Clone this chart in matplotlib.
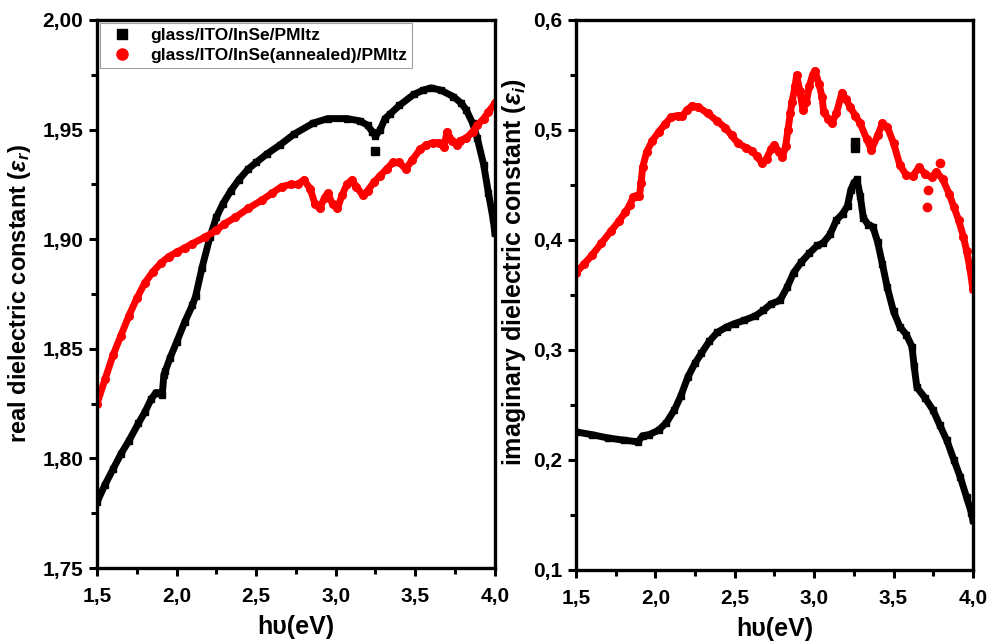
import numpy as np
import matplotlib
matplotlib.use('Agg')
import matplotlib.pyplot as plt
from matplotlib.ticker import MultipleLocator, FuncFormatter

plt.rcParams['font.family'] = ['Liberation Sans', 'DejaVu Sans']
plt.rcParams['font.weight'] = 'bold'
plt.rcParams['mathtext.fontset'] = 'custom'
plt.rcParams['mathtext.rm'] = 'Liberation Sans'
plt.rcParams['mathtext.it'] = 'Liberation Sans:italic'

# 实部 - glass/ITO/InSe/PMItz
er1_x = [1.50, 1.55, 1.60, 1.65, 1.70, 1.76, 1.80, 1.84, 1.87, 1.88, 1.91, 1.92, 1.93, 1.96,
         2.00, 2.05, 2.10, 2.12, 2.16, 2.21, 2.25, 2.29, 2.34, 2.39, 2.45, 2.50, 2.57, 2.65,
         2.74, 2.86, 2.95, 3.07, 3.15, 3.20, 3.23, 3.25, 3.28, 3.31, 3.34, 3.40, 3.49, 3.55,
         3.60, 3.66, 3.74, 3.79, 3.82, 3.86, 3.89, 3.93, 3.96, 3.99, 4.00]
er1_y = [1.780, 1.788, 1.795, 1.802, 1.808, 1.816, 1.821, 1.827, 1.830, 1.830, 1.829, 1.838,
         1.840, 1.846, 1.853, 1.862, 1.870, 1.874, 1.887, 1.901, 1.910, 1.916, 1.922, 1.927,
         1.932, 1.935, 1.939, 1.943, 1.948, 1.953, 1.955, 1.955, 1.954, 1.952, 1.949, 1.947,
         1.950, 1.955, 1.957, 1.961, 1.966, 1.968, 1.969, 1.968, 1.965, 1.962, 1.959, 1.953,
         1.946, 1.934, 1.921, 1.909, 1.903]
er1_out_x = [3.25]
er1_out_y = [1.940]

# 实部 - glass/ITO/InSe(annealed)/PMItz
er2_x = [1.50, 1.55, 1.60, 1.65, 1.70, 1.75, 1.80, 1.85, 1.90, 1.95, 2.00, 2.05, 2.10, 2.18,
         2.25, 2.30, 2.37, 2.45, 2.54, 2.60, 2.66, 2.72, 2.76, 2.80, 2.84, 2.87, 2.90, 2.93,
         2.95, 2.98, 3.01, 3.04, 3.07, 3.10, 3.13, 3.17, 3.20, 3.24, 3.28, 3.32, 3.36, 3.40,
         3.44, 3.48, 3.53, 3.57, 3.61, 3.65, 3.68, 3.70, 3.73, 3.76, 3.78, 3.82, 3.86, 3.89,
         3.93, 3.96, 4.00]
er2_y = [1.825, 1.836, 1.847, 1.856, 1.865, 1.873, 1.880, 1.885, 1.889, 1.892, 1.894, 1.896,
         1.898, 1.901, 1.904, 1.907, 1.910, 1.914, 1.918, 1.921, 1.924, 1.925, 1.925, 1.927,
         1.923, 1.916, 1.914, 1.919, 1.921, 1.916, 1.914, 1.920, 1.925, 1.927, 1.924, 1.920,
         1.922, 1.926, 1.929, 1.932, 1.935, 1.935, 1.932, 1.936, 1.941, 1.943, 1.944, 1.944,
         1.942, 1.949, 1.945, 1.943, 1.945, 1.946, 1.949, 1.952, 1.955, 1.958, 1.962]

# 虚部 - glass/ITO/InSe/PMItz
ei1_x = [1.50, 1.60, 1.70, 1.80, 1.89, 1.92, 1.96, 2.02, 2.07, 2.12, 2.16, 2.205, 2.25, 2.29,
         2.34, 2.39, 2.45, 2.50, 2.56, 2.63, 2.68, 2.73, 2.785, 2.83, 2.87, 2.92, 2.97, 3.02,
         3.055, 3.10, 3.14, 3.18, 3.21, 3.23, 3.25, 3.27, 3.29, 3.31, 3.34, 3.37, 3.40, 3.43,
         3.46, 3.50, 3.54, 3.58, 3.616, 3.63, 3.647, 3.70, 3.75, 3.79, 3.835, 3.88, 3.92,
         3.96, 3.99, 4.00]
ei1_y = [0.2255, 0.223, 0.220, 0.218, 0.2165, 0.222, 0.223, 0.227, 0.234, 0.2455, 0.258,
         0.2755, 0.288, 0.297, 0.308, 0.316, 0.321, 0.324, 0.327, 0.331, 0.336, 0.342, 0.345,
         0.357, 0.370, 0.380, 0.388, 0.395, 0.397, 0.405, 0.418, 0.424, 0.431, 0.445, 0.452,
         0.455, 0.440, 0.420, 0.414, 0.412, 0.398, 0.378, 0.357, 0.335, 0.321, 0.314, 0.303,
         0.285, 0.266, 0.256, 0.245, 0.232, 0.218, 0.200, 0.1845, 0.166, 0.152, 0.145]
ei1_out_x = [3.255, 3.26]
ei1_out_y = [0.489, 0.484]

# 虚部 - glass/ITO/InSe(annealed)/PMItz
ei2_x = [1.50, 1.55, 1.60, 1.66, 1.72, 1.77, 1.81, 1.84, 1.86, 1.88, 1.90, 1.91, 1.92, 1.945,
         1.98, 2.02, 2.06, 2.10, 2.14, 2.17, 2.20, 2.23, 2.27, 2.33, 2.39, 2.44, 2.48, 2.52,
         2.57, 2.61, 2.64, 2.67, 2.70, 2.73, 2.75, 2.78, 2.80, 2.82, 2.835, 2.85, 2.86, 2.88,
         2.89, 2.91, 2.93, 2.95, 2.97, 2.99, 3.005, 3.03, 3.05, 3.06, 3.09, 3.11, 3.14, 3.175,
         3.20, 3.225, 3.26, 3.29, 3.33, 3.36, 3.40, 3.43, 3.46, 3.50, 3.54, 3.58, 3.62, 3.66,
         3.70, 3.74, 3.77, 3.81, 3.85, 3.88, 3.91, 3.94, 3.96, 3.98, 4.00]
ei2_y = [0.370, 0.378, 0.386, 0.397, 0.408, 0.417, 0.425, 0.432, 0.439, 0.440, 0.440, 0.452,
         0.466, 0.480, 0.490, 0.498, 0.505, 0.512, 0.513, 0.513, 0.518, 0.522, 0.521, 0.515,
         0.508, 0.502, 0.495, 0.488, 0.484, 0.481, 0.476, 0.470, 0.474, 0.483, 0.486, 0.480,
         0.475, 0.485, 0.500, 0.515, 0.525, 0.540, 0.550, 0.535, 0.518, 0.525, 0.540, 0.550,
         0.554, 0.542, 0.530, 0.516, 0.510, 0.506, 0.515, 0.534, 0.528, 0.521, 0.513, 0.506,
         0.492, 0.482, 0.495, 0.506, 0.503, 0.488, 0.468, 0.459, 0.458, 0.466, 0.460, 0.457,
         0.462, 0.455, 0.442, 0.430, 0.418, 0.403, 0.390, 0.375, 0.355]
ei2_out_x = [3.71, 3.72, 3.79]
ei2_out_y = [0.430, 0.445, 0.470]

label1 = 'glass/ITO/InSe/PMItz'
label2 = 'glass/ITO/InSe(annealed)/PMItz'


def comma_fmt(nd):
    return FuncFormatter(lambda v, p: f'{v:.{nd}f}'.replace('.', ','))


def style_axes(ax, ymaj, ymin, ynd):
    for s in ax.spines.values():
        s.set_linewidth(2.4)
    ax.set_xlim(1.5, 4.0)
    ax.xaxis.set_major_locator(MultipleLocator(0.5))
    ax.xaxis.set_minor_locator(MultipleLocator(0.25))
    ax.yaxis.set_major_locator(MultipleLocator(ymaj))
    ax.yaxis.set_minor_locator(MultipleLocator(ymin))
    ax.xaxis.set_major_formatter(comma_fmt(1))
    ax.yaxis.set_major_formatter(comma_fmt(ynd))
    ax.tick_params(which='both', direction='out', top=False, right=False, width=2.2)
    ax.tick_params(which='major', length=6, labelsize=15, pad=4)
    ax.tick_params(axis='x', which='major', pad=8)
    ax.tick_params(which='minor', length=4)
    for t in ax.get_xticklabels() + ax.get_yticklabels():
        t.set_fontweight('bold')
    ax.set_xlabel('h\u03c5(eV)', fontsize=18, fontweight='bold', labelpad=6)


fig = plt.figure(figsize=(9.92, 6.44), dpi=100)
ax1 = fig.add_axes([0.0978, 0.118, 0.401, 0.851])
ax2 = fig.add_axes([0.5806, 0.115, 0.4002, 0.854])

# 左图: 实部
ax1.plot(er1_x, er1_y, color='black', lw=5, marker='s', ms=5, label=label1)
ax1.plot(er1_out_x, er1_out_y, ls='none', color='black', marker='s', ms=6)
ax1.plot(er2_x, er2_y, color='red', lw=5, marker='o', ms=5.5, label=label2)
ax1.set_ylim(1.75, 2.00)
style_axes(ax1, 0.05, 0.025, 2)
ax1.set_ylabel(r'real dielectric constant ($\varepsilon_r$)', fontsize=17, fontweight='bold')
ax1.yaxis.set_label_coords(-0.161, 0.50)

h1 = ax1.plot([], [], ls='none', color='black', marker='s', ms=7)[0]
h2 = ax1.plot([], [], ls='none', color='red', marker='o', ms=8)[0]
leg = ax1.legend([h1, h2], [label1, label2], loc='upper left',
                 prop={'weight': 'bold', 'size': 12.5}, frameon=True, fancybox=False,
                 borderaxespad=0.15, handletextpad=0.6, borderpad=0.3, labelspacing=0.3)
leg.get_frame().set_edgecolor('#888888')
leg.get_frame().set_linewidth(0.8)

# 右图: 虚部
ax2.plot(ei1_x, ei1_y, color='black', lw=5, marker='s', ms=5)
ax2.plot(ei1_out_x, ei1_out_y, ls='none', color='black', marker='s', ms=6)
ax2.plot(ei2_x, ei2_y, color='red', lw=5, marker='o', ms=5.5)
ax2.plot(ei2_out_x, ei2_out_y, ls='none', color='red', marker='o', ms=6)
ax2.set_ylim(0.1, 0.6)
style_axes(ax2, 0.1, 0.05, 1)
ax2.set_ylabel(r'imaginary dielectric constant ($\varepsilon_i$)', fontsize=18, fontweight='bold')
ax2.yaxis.set_label_coords(-0.121, 0.542)

fig.savefig('out.png', dpi=100)
